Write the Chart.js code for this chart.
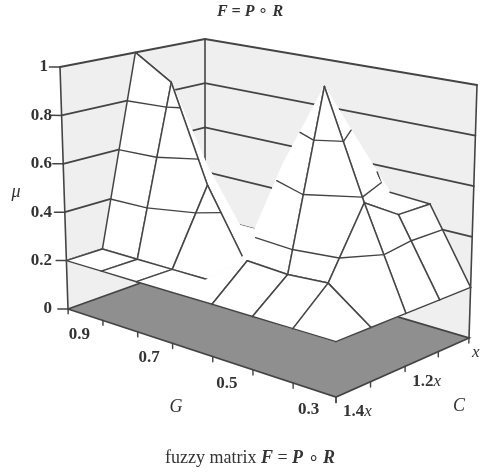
<!DOCTYPE html>
<html>
<head>
<meta charset="utf-8">
<title>fuzzy matrix</title>
<script src="https://cdn.jsdelivr.net/npm/chart.js@4/dist/chart.umd.min.js"></script>
<style>
  html, body { margin: 0; padding: 0; background: #fff; }
  canvas { display: block; filter: blur(0.45px); }
</style>
</head>
<body>
<canvas id="surface" width="481" height="472"></canvas>
<script>
// categories along the two floor axes and the height axis
var gLabels = ['0.9', '0.8', '0.7', '0.6', '0.5', '0.4', '0.3'];
var cLabels = ['1.4', '1.3', '1.2', '1.1', ''];
var muTicks = [0, 0.2, 0.4, 0.6, 0.8, 1];

// membership values, one list per G line, read from C = 1.4x to C = x
var mu0 = [0.2, 0.2, 1.0, 0.7, 0.38];
var mu1 = [0.2, 0.2, 0.9, 0.5, 0.2];
var mu2 = [0.2, 0.2, 0.5, 0.26, 0.2];
var mu3 = [0.2, 0.2, 0.24, 0.25, 0.3];
var mu4 = [0.2, 0.32, 0.66, 0.45, 0.45];
var mu5 = [0.2, 0.31, 1.0, 0.74, 0.5];
var mu6 = [0.2, 0.32, 0.58, 0.49, 0.49];
var mu7 = [0.2, 0.2, 0.2, 0.2, 0.2];
var surface = [mu0, mu1, mu2, mu3, mu4, mu5, mu6, mu7];

// mesh lines that can be seen: for each C line the G steps, for each G line the C steps
var gSteps = [[0,1,2,3,4,5,6], [0,1,2,4,5,6], [0,1,2,5,6], [6], [5,6]];
var cSteps = [[0,1], [0,1], [0,1], [], [0], [0,1], [0,1,2,3], [0,1,2,3]];
var contourLevels = [0.4, 0.6, 0.8];

// box corners on the page, [floor, top]
var cornerL = [[68, 309], [60, 67]];
var cornerB = [[205, 260], [205, 39]];
var cornerR = [[469, 338], [477, 85]];
var cornerF = [[336, 397], [336, 120]];
// the box is in perspective, so the grid lines are not evenly spaced
var gStops = [0, 0.13, 0.26, 0.39, 0.54, 0.69, 0.84, 1];
var cStops = [0, 0.26, 0.52, 0.77, 1];

var INK = '#444444';
var nG = surface.length - 1;
var nC = cLabels.length - 1;

function mix(a, b, t) {
  return [a[0] + (b[0] - a[0]) * t, a[1] + (b[1] - a[1]) * t];
}

// u runs along G, v runs along C, z is mu
function project(u, v, z) {
  var level = [0, 1].map(function (k) {
    return mix(mix(cornerL[k], cornerF[k], u), mix(cornerB[k], cornerR[k], u), v);
  });
  var p = mix(level[0], level[1], z);
  return { x: p[0], y: p[1] };
}

function gridPoint(i, j) {
  return project(gStops[i], cStops[j], surface[i][j]);
}

var layers = [];
function addShape(points, color, edge) {
  layers.push({
    data: points.concat([points[0]]),
    fill: 'shape',
    backgroundColor: color,
    borderColor: color,
    borderWidth: edge || 0,
    pointRadius: 0
  });
}
function addLine(points, width) {
  layers.push({
    data: points,
    fill: false,
    borderColor: INK,
    borderWidth: width,
    pointRadius: 0
  });
}

function addWalls() {
  addShape([project(0,0,0), project(0,0,1), project(0,1,1), project(0,1,0)], '#efefef');
  addShape([project(0,1,0), project(0,1,1), project(1,1,1), project(1,1,0)], '#efefef');
  muTicks.forEach(function (m) {
    if (m > 0) addLine([project(0,0,m), project(0,1,m), project(1,1,m)], 1.8);
    addLine([project(-0.02,-0.035,m), project(0,0,m)], 1.5);
  });
  addLine([project(0,0,0), project(0,0,1)], 1.6);
  addLine([project(0,1,0), project(0,1,1)], 1.6);
  addLine([project(1,1,0), project(1,1,1)], 1.6);
}

function addFloor() {
  var f = [project(0,0,0), project(1,0,0), project(1,1,0), project(0,1,0)];
  addShape(f, '#8f8f8f');
  addLine(f.concat([f[0]]), 1.8);
  gStops.forEach(function (u) {
    addLine([project(u, 0, 0), project(u, 0, -0.02)], 1.4);
  });
  cStops.forEach(function (v) {
    addLine([project(1, v, 0), project(1, v, -0.02)], 1.4);
  });
}

// marching squares on one mesh cell
function addContours(i, j) {
  var corners = [[i, j], [i + 1, j], [i + 1, j + 1], [i, j + 1]];
  contourLevels.forEach(function (level) {
    var hits = [];
    for (var k = 0; k < 4; k++) {
      var a = corners[k], b = corners[(k + 1) % 4];
      var za = surface[a[0]][a[1]], zb = surface[b[0]][b[1]];
      if ((za < level) !== (zb < level)) {
        var t = (level - za) / (zb - za);
        var u = gStops[a[0]] + (gStops[b[0]] - gStops[a[0]]) * t;
        var v = cStops[a[1]] + (cStops[b[1]] - cStops[a[1]]) * t;
        hits.push(project(u, v, level));
      }
    }
    if (hits.length >= 2) addLine(hits.slice(0, 2), 1.4);
    if (hits.length == 4) addLine(hits.slice(2, 4), 1.4);
  });
}

function addCellEdges(i, j) {
  [j, j + 1].forEach(function (c) {
    if (gSteps[c].indexOf(i) >= 0) addLine([gridPoint(i, c), gridPoint(i + 1, c)], 1.5);
  });
  [i, i + 1].forEach(function (g) {
    if (cSteps[g].indexOf(j) >= 0) addLine([gridPoint(g, j), gridPoint(g, j + 1)], 1.5);
  });
}

function addSurface() {
  // far cells first so that the near ones cover them
  for (var i = 0; i < nG; i++) {
    for (var j = nC - 1; j >= 0; j--) {
      addShape([gridPoint(i, j), gridPoint(i + 1, j), gridPoint(i + 1, j + 1), gridPoint(i, j + 1)], '#ffffff', 1);
      addCellEdges(i, j);
      if (j == 0 || (j == 1 && i != 3) || i >= 5) addContours(i, j);
    }
  }
}

addWalls();
addFloor();
addSurface();

// chart.js paints high order first
layers.forEach(function (d, k) { d.order = -k; });

function drawRuns(ctx, runs, x, y) {
  ctx.textAlign = 'left';
  var w = 0;
  runs.forEach(function (r) { ctx.font = r[1]; w += ctx.measureText(r[0]).width; });
  var pos = x - w / 2;
  runs.forEach(function (r) {
    ctx.font = r[1];
    ctx.fillText(r[0], pos, y);
    pos += ctx.measureText(r[0]).width;
  });
}

var labelsPlugin = {
  id: 'boxLabels',
  afterDraw: function (chart) {
    var ctx = chart.ctx;
    var sx = chart.scales.x, sy = chart.scales.y;
    var tickFont = 'bold 17px "Liberation Serif"';
    var axisFont = 'italic 18px "Liberation Serif"';
    var xFont = 'italic 17px "Liberation Serif"';
    ctx.save();
    ctx.fillStyle = '#333';
    ctx.textBaseline = 'middle';
    ctx.font = tickFont;
    ctx.textAlign = 'right';
    muTicks.forEach(function (m) {
      ctx.fillText(String(m), m == 1 ? 48 : 52, sy.getPixelForValue(project(0, 0, m).y));
    });
    ctx.textAlign = 'center';
    gLabels.forEach(function (t, i) {
      if (i % 2 == 0) {
        var p = project((gStops[i] + gStops[i + 1]) / 2, 0, 0);
        ctx.fillText(t, sx.getPixelForValue(p.x) - 6, sy.getPixelForValue(p.y) + 20);
      }
    });
    ctx.textAlign = 'left';
    cLabels.forEach(function (t, j) {
      if (j % 2 == 0) {
        var p = project(1, cStops[j], 0);
        var px = sx.getPixelForValue(p.x) + (t ? 7 : 3);
        ctx.font = tickFont;
        ctx.fillText(t, px, sy.getPixelForValue(p.y) + 15);
        px += ctx.measureText(t).width;
        ctx.font = xFont;
        ctx.fillText('x', px, sy.getPixelForValue(p.y) + 15);
      }
    });
    ctx.font = axisFont;
    ctx.textAlign = 'center';
    ctx.fillText('\u03bc', 16, 192);
    ctx.fillText('G', 176, 407);
    ctx.fillText('C', 459, 406);

    var bi = 'italic bold 16px "Liberation Serif"';
    var rm = '18px "Liberation Serif"';
    var bi2 = 'italic bold 18px "Liberation Serif"';
    drawRuns(ctx, [['F', bi], [' = ', bi], ['P', bi], [' \u2218 ', '16px "Liberation Serif"'], ['R', bi]], 250, 12);
    drawRuns(ctx, [['fuzzy matrix ', rm], ['F', bi2], [' = ', rm], ['P', bi2], [' \u2218 ', rm], ['R', bi2]], 250, 458);
    ctx.restore();
  }
};

new Chart(document.getElementById('surface').getContext('2d'), {
  type: 'line',
  data: { datasets: layers },
  options: {
    responsive: false,
    animation: false,
    parsing: false,
    layout: { padding: 0 },
    elements: { line: { tension: 0, borderCapStyle: 'round' } },
    plugins: { legend: { display: false }, tooltip: { enabled: false } },
    scales: {
      x: { type: 'linear', min: 0, max: 481, display: false },
      y: { type: 'linear', min: 0, max: 472, reverse: true, display: false }
    }
  },
  plugins: [labelsPlugin]
});
</script>
</body>
</html>
